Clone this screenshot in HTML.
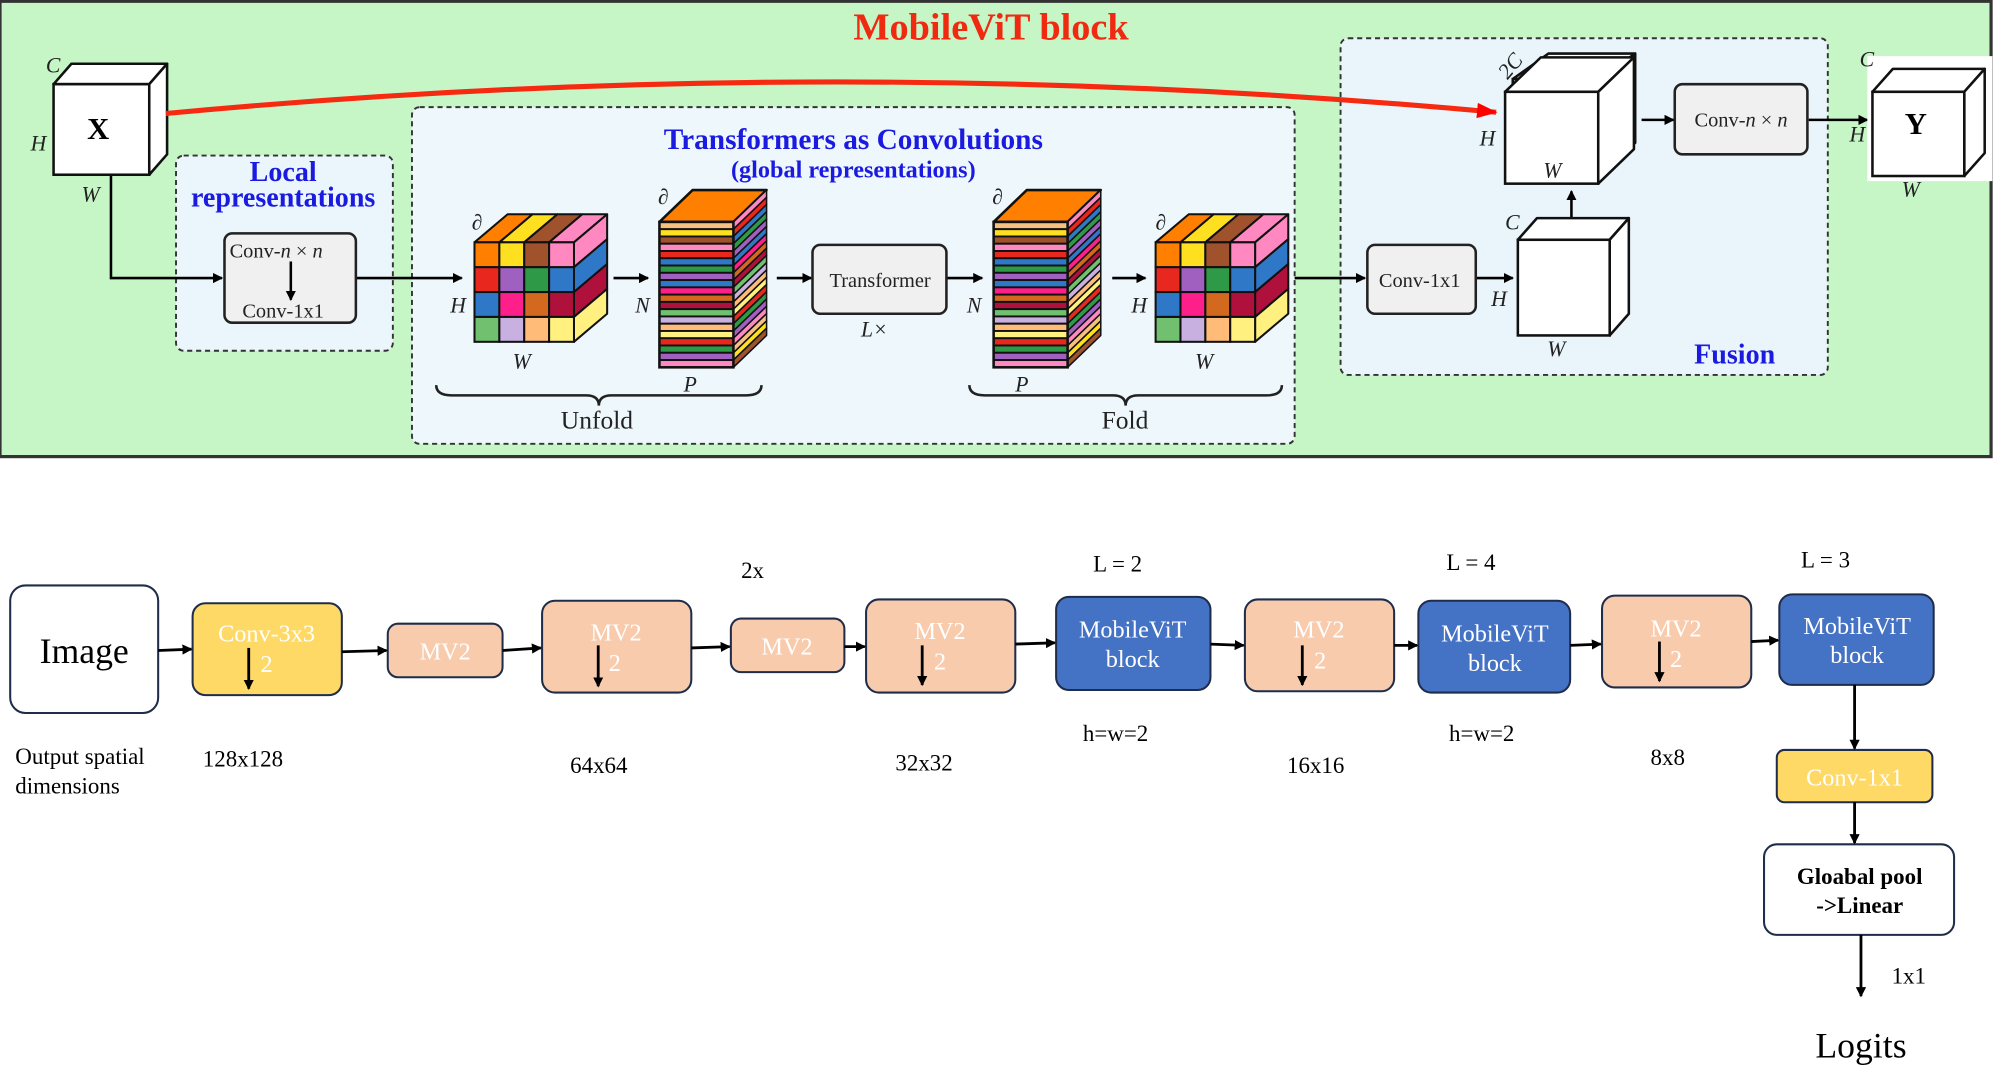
<!DOCTYPE html>
<html><head><meta charset="utf-8"><style>
html,body{margin:0;padding:0;background:#fff;width:2000px;height:1091px;overflow:hidden}
svg{display:block}
text{font-family:"Liberation Serif",serif}
</style></head><body>
<svg id="s" width="2000" height="1091" viewBox="0 0 1568 855.4" preserveAspectRatio="none" xmlns="http://www.w3.org/2000/svg">
<defs>
<marker id="a" markerWidth="8" markerHeight="8" refX="7" refY="4" orient="auto" markerUnits="userSpaceOnUse"><path d="M0,0 L8,4 L0,8 z" fill="#000"/></marker>
<marker id="ar" markerWidth="16" markerHeight="12" refX="15" refY="6" orient="auto" markerUnits="userSpaceOnUse"><path d="M0,0 L16,6 L0,12 z" fill="#f00"/></marker>
</defs>
<rect x="0" y="1" width="1561" height="357" fill="#c6f5c6" stroke="#333" stroke-width="2.5"/>
<text x="777" y="31" font-size="30" font-weight="bold" fill="#f02a10" text-anchor="middle">MobileViT block</text>
<rect x="138" y="122" width="170" height="153" rx="6" fill="#eaf6fb" stroke="#333" stroke-width="1.5" stroke-dasharray="4,3"/>
<rect x="323" y="84" width="692" height="264" rx="6" fill="#eef7fb" stroke="#333" stroke-width="1.5" stroke-dasharray="4,3"/>
<rect x="1051" y="30" width="382" height="264" rx="6" fill="#eaf5fb" stroke="#333" stroke-width="1.5" stroke-dasharray="4,3"/>
<g id="shapes"></g>
<path d="M130,89 Q650,40 1173,88" fill="none" stroke="#f52a10" stroke-width="4" marker-end="url(#ar)"/>
<text x="222" y="142" font-size="22" font-weight="bold" fill="#1a1ae0" text-anchor="middle">Local</text>
<text x="222" y="162" font-size="22" font-weight="bold" fill="#1a1ae0" text-anchor="middle">representations</text>
<text x="669" y="117" font-size="23" font-weight="bold" fill="#1a1ae0" text-anchor="middle">Transformers as Convolutions</text>
<text x="669" y="139" font-size="19" font-weight="bold" fill="#1a1ae0" text-anchor="middle">(global representations)</text>
<text x="1360" y="285" font-size="22" font-weight="bold" fill="#1a1ae0" text-anchor="middle">Fusion</text>
<!-- X cube labels -->
<text x="77" y="109" font-size="24" font-weight="bold" text-anchor="middle">X</text>
<text x="1502" y="105" font-size="24" font-weight="bold" text-anchor="middle">Y</text>
<g font-size="17" font-style="italic" fill="#222">
<text x="36" y="57">C</text><text x="24" y="118">H</text><text x="64" y="158">W</text>
<text x="1458" y="52">C</text><text x="1450" y="111">H</text><text x="1491" y="154">W</text>
<text x="1160" y="114">H</text><text x="1210" y="139">W</text><text x="1176" y="60" transform="rotate(-50 1182 55)">2C</text>
<text x="1180" y="180">C</text><text x="1169" y="240">H</text><text x="1213" y="279">W</text>
<text x="353" y="245">H</text><text x="402" y="289">W</text><text x="370" y="180">∂</text>
<text x="498" y="245">N</text><text x="536" y="307">P</text><text x="516" y="160">∂</text>
<text x="758" y="245">N</text><text x="796" y="307">P</text><text x="778" y="160">∂</text>
<text x="887" y="245">H</text><text x="937" y="289">W</text><text x="906" y="180">∂</text>
<text x="675" y="264">L×</text>
</g>
<g font-size="16" fill="#222">
<text x="180" y="202">Conv-<tspan font-style="italic">n</tspan> × <tspan font-style="italic">n</tspan></text>
<text x="190" y="249">Conv-1x1</text>
<text x="690" y="225" text-anchor="middle">Transformer</text>
<text x="1113" y="225" text-anchor="middle">Conv-1x1</text>
<text x="1365" y="99" text-anchor="middle">Conv-<tspan font-style="italic">n</tspan> × <tspan font-style="italic">n</tspan></text>
</g>
<text x="468" y="336" font-size="20" text-anchor="middle" fill="#222">Unfold</text>
<text x="882" y="336" font-size="20" text-anchor="middle" fill="#222">Fold</text>

<!-- bottom pipeline -->
<g stroke="#1f2d4a" stroke-width="1.6">
<rect x="8" y="459" width="116" height="100" rx="12" fill="#fff"/>
<rect x="151" y="473" width="117" height="72" rx="10" fill="#ffd966"/>
<rect x="304" y="489" width="90" height="42" rx="8" fill="#f8cbad"/>
<rect x="425" y="471" width="117" height="72" rx="10" fill="#f8cbad"/>
<rect x="573" y="485" width="89" height="42" rx="8" fill="#f8cbad"/>
<rect x="679" y="470" width="117" height="73" rx="10" fill="#f8cbad"/>
<rect x="828" y="468" width="121" height="73" rx="10" fill="#4472c4"/>
<rect x="976" y="470" width="117" height="72" rx="10" fill="#f8cbad"/>
<rect x="1112" y="471" width="119" height="72" rx="10" fill="#4472c4"/>
<rect x="1256" y="467" width="117" height="72" rx="10" fill="#f8cbad"/>
<rect x="1395" y="466" width="121" height="71" rx="10" fill="#4472c4"/>
<rect x="1393" y="588" width="122" height="41" rx="6" fill="#ffd966"/>
<rect x="1383" y="662" width="149" height="71" rx="10" fill="#fff"/>
</g>
<g stroke="#000" stroke-width="2.2" marker-end="url(#a)" fill="none">
<line x1="124" y1="510" x2="150" y2="509"/>
<line x1="268" y1="511" x2="303" y2="510"/>
<line x1="394" y1="510" x2="424" y2="508"/>
<line x1="542" y1="508" x2="572" y2="507"/>
<line x1="662" y1="507" x2="678" y2="507"/>
<line x1="796" y1="505" x2="827" y2="504"/>
<line x1="949" y1="505" x2="975" y2="506"/>
<line x1="1093" y1="506" x2="1111" y2="506"/>
<line x1="1231" y1="506" x2="1255" y2="505"/>
<line x1="1373" y1="503" x2="1394" y2="502"/>
<line x1="1454" y1="537" x2="1454" y2="587"/>
<line x1="1454" y1="629" x2="1454" y2="661"/>
<line x1="1459" y1="733" x2="1459" y2="781"/>
<line x1="195" y1="508" x2="195" y2="540"/>
<line x1="469" y1="506" x2="469" y2="538"/>
<line x1="723" y1="506" x2="723" y2="537"/>
<line x1="1021" y1="506" x2="1021" y2="537"/>
<line x1="1301" y1="503" x2="1301" y2="534"/>
</g>
<g font-size="19" fill="#fff" text-anchor="middle">
<text x="209" y="503">Conv-3x3</text><text x="209" y="527">2</text>
<text x="349" y="517">MV2</text>
<text x="483" y="502">MV2</text><text x="482" y="526">2</text>
<text x="617" y="513">MV2</text>
<text x="737" y="501">MV2</text><text x="737" y="525">2</text>
<text x="888" y="500">MobileViT</text><text x="888" y="523">block</text>
<text x="1034" y="500">MV2</text><text x="1035" y="524">2</text>
<text x="1172" y="503">MobileViT</text><text x="1172" y="526">block</text>
<text x="1314" y="499">MV2</text><text x="1314" y="523">2</text>
<text x="1456" y="497">MobileViT</text><text x="1456" y="520">block</text>
<text x="1454" y="616">Conv-1x1</text>
</g>
<text x="66" y="520" font-size="28" text-anchor="middle">Image</text>
<text x="1458" y="693" font-size="18" font-weight="bold" text-anchor="middle">Gloabal pool</text>
<text x="1458" y="716" font-size="18" font-weight="bold" text-anchor="middle">-&gt;Linear</text>
<g font-size="18" fill="#000">
<text x="12" y="599">Output spatial</text><text x="12" y="622">dimensions</text>
<text x="159" y="601">128x128</text>
<text x="447" y="606">64x64</text>
<text x="581" y="453">2x</text>
<text x="702" y="604">32x32</text>
<text x="857" y="448">L = 2</text><text x="849" y="581">h=w=2</text>
<text x="1009" y="606">16x16</text>
<text x="1134" y="447">L = 4</text><text x="1136" y="581">h=w=2</text>
<text x="1294" y="600">8x8</text>
<text x="1412" y="445">L = 3</text>
<text x="1483" y="771">1x1</text>
</g>
<text x="1459" y="829" font-size="28" text-anchor="middle">Logits</text>
</svg>
<script>
const g=document.getElementById('shapes');const NS='http://www.w3.org/2000/svg';
function el(t,a){const e=document.createElementNS(NS,t);for(const k in a)e.setAttribute(k,a[k]);g.appendChild(e);return e;}
function poly(p,f,sw){el('polygon',{points:p.map(q=>q.join(',')).join(' '),fill:f,stroke:'#111','stroke-width':sw||1.6,'stroke-linejoin':'round'});}
function line(x1,y1,x2,y2,arrow){el('line',{x1,y1,x2,y2,stroke:'#000','stroke-width':2,'marker-end':arrow?'url(#a)':''});}
function cube(x,y,w,h,dx,dy,f){poly([[x,y],[x+dx,y-dy],[x+w+dx,y-dy],[x+w,y]],f||'#fff',2);poly([[x+w,y],[x+w+dx,y-dy],[x+w+dx,y+h-dy],[x+w,y+h]],f||'#fff',2);el('rect',{x,y,width:w,height:h,fill:f||'#fff',stroke:'#111','stroke-width':2});}
// connectors top
el('polyline',{points:'87,137 87,218 174,218',fill:'none',stroke:'#000','stroke-width':2,'marker-end':'url(#a)'});
line(279,218,362,218,1);line(481,218,508,218,1);line(609,218,636,218,1);line(742,218,770,218,1);line(872,218,898,218,1);
line(1015,218,1070,218,1);line(1157,218,1186,218,1);line(1232,172,1232,150,1);line(1287,94,1312,94,1);line(1418,94,1464,94,1);
// conv boxes
el('rect',{x:176,y:183,width:103,height:70,rx:6,fill:'#f0f0f0',stroke:'#222','stroke-width':2});
line(228,205,228,235,1);
el('rect',{x:637,y:192,width:105,height:54,rx:6,fill:'#f0f0f0',stroke:'#222','stroke-width':2});
el('rect',{x:1072,y:192,width:85,height:54,rx:6,fill:'#f0f0f0',stroke:'#222','stroke-width':2});
el('rect',{x:1313,y:66,width:104,height:55,rx:6,fill:'#f0f0f0',stroke:'#222','stroke-width':2});
// white cubes
el('rect',{x:1464,y:44,width:98,height:98,fill:'#fff'});
cube(42,66,75,71,14,16);cube(1468,72,72,66,16,18);
cube(1186,62,68,70,28,20);cube(1180,72,73,72,28,27);cube(1190,188,72,75,15,17);
// colored cubes
const C=[['#ff8000','#ffe020','#a0522d','#ff88c0'],['#e8281e','#a060c0','#2e9a48','#2f78c8'],['#2f78c8','#ff1f8a','#d2691e','#b0103c'],['#70c070','#c8b0e0','#ffbb77','#fff080']];
const side=['#ff88c0','#2f78c8','#b0103c','#fff080'];
function ccube(x,y){const s=19.5,dx=26,dy=22;
 for(let i=0;i<4;i++){poly([[x+i*s,y],[x+i*s+dx,y-dy],[x+(i+1)*s+dx,y-dy],[x+(i+1)*s,y]],C[0][i]);}
 for(let r=0;r<4;r++){poly([[x+4*s,y+r*s],[x+4*s+dx,y+r*s-dy],[x+4*s+dx,y+(r+1)*s-dy],[x+4*s,y+(r+1)*s]],side[r]);}
 for(let r=0;r<4;r++)for(let c=0;c<4;c++)el('rect',{x:x+c*s,y:y+r*s,width:s,height:s,fill:C[r][c],stroke:'#111','stroke-width':1.6});}
ccube(372,190);ccube(906,190);
const S=['#f5c080','#ffe020','#a0522d','#ff88c0','#e8281e','#2f78c8','#2e9a48','#a060c0','#2f78c8','#ff1f8a','#d2691e','#b0103c','#70c070','#c8b0e0','#ffbb77','#fff080','#e8281e','#2e9a48','#a060c0','#ff88c0'];
function stack(x,y){const w=58,h=114,dx=26,dy=25,n=20,sh=h/n;
 poly([[x,y],[x+dx,y-dy],[x+w+dx,y-dy],[x+w,y]],'#ff8000',2);
 for(let i=0;i<n;i++){poly([[x+w,y+i*sh],[x+w+dx,y+i*sh-dy],[x+w+dx,y+(i+1)*sh-dy],[x+w,y+(i+1)*sh]],S[(i+3)%n],1.2);}
 for(let i=0;i<n;i++)el('rect',{x,y:y+i*sh,width:w,height:sh,fill:S[i],stroke:'#111','stroke-width':1.5});
 el('rect',{x,y,width:w,height:h,fill:'none',stroke:'#111','stroke-width':2});}
stack(517,174);stack(779,174);
function brace(x1,x2,y){const m=(x1+x2)/2;el('path',{d:`M${x1},${y} Q${x1},${y+8} ${x1+12},${y+8} L${m-10},${y+8} Q${m},${y+8} ${m},${y+16} Q${m},${y+8} ${m+10},${y+8} L${x2-12},${y+8} Q${x2},${y+8} ${x2},${y}`,fill:'none',stroke:'#222','stroke-width':2});}
brace(342,597,302);brace(760,1005,302);
</script>
</body></html>
